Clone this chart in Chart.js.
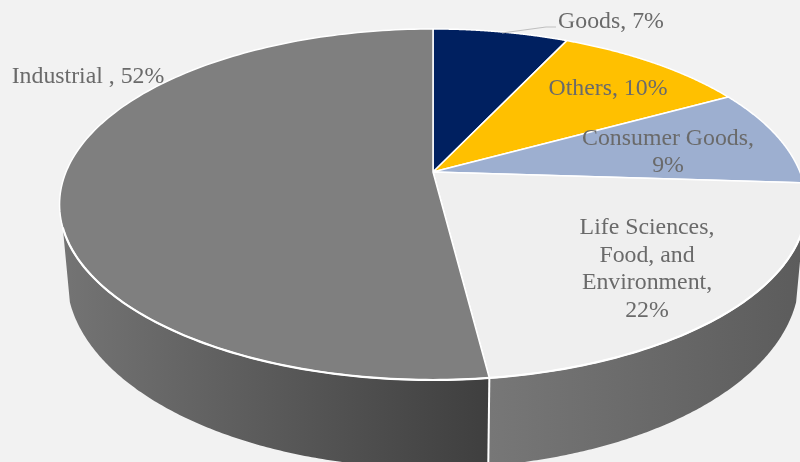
<!DOCTYPE html>
<html>
<head>
<meta charset="utf-8">
<script src="https://cdn.jsdelivr.net/npm/chart.js@4"></script>
<style>
    html, body { margin: 0; padding: 0; background: #f2f2f2; }
    canvas { display: block; }
</style>
</head>
<body>
<canvas id="chartSetores" width="800" height="462"></canvas>
<script>
const categories = ['Goods', 'Others', 'Consumer Goods', 'Life Sciences, Food, and Environment', 'Industrial '];
const values = [7, 10, 9, 22, 52];
const sliceColors = ['#002060', '#ffc000', '#9dafd0', '#efefef', '#7f7f7f'];

// centre of each label block and the width it wraps at
const labelX = [611, 608, 668, 647, 88];
const labelY = [22, 89, 152, 269, 77];
const labelWrap = [200, 200, 180, 145, 200];

// the disc is a circle seen in perspective, k sets how strong it is
const k = 0.185;
const topFace = { x0: 433, y0: 172, a: 367, b: 169.5 };
const lowerFace = { x0: 433, y0: 241.6, a: 360, b: 184.5 };
// angles between which the side wall faces the viewer
const wallFrom = 18 * Math.PI / 180;
const wallTo = 162 * Math.PI / 180;

function project(face, angle) {
    const u = Math.cos(angle);
    const v = Math.sin(angle);
    const w = 1 - k * v;
    return [face.x0 + face.a * u / w, face.y0 + face.b * v / w];
}

function traceRim(ctx, face, start, end) {
    const steps = 160;
    for (let i = 0; i <= steps; i++) {
        const p = project(face, start + (end - start) * i / steps);
        ctx.lineTo(p[0], p[1]);
    }
}

function wrapText(ctx, text, maxWidth) {
    const lines = [];
    let line = '';
    text.split(' ').forEach(word => {
        const next = line ? line + ' ' + word : word;
        if (line && ctx.measureText(next).width > maxWidth) {
            lines.push(line);
            line = word;
        } else {
            line = next;
        }
    });
    lines.push(line);
    return lines;
}

const pie3d = {
    id: 'pie3d',
    // replaces the flat arcs with the tilted disc and its wall
    beforeDatasetDraw(chart, args) {
        const ctx = chart.ctx;
        const arcs = args.meta.data;
        ctx.save();

        // side wall, each slice has its own shading from left to right
        const wallShades = { 3: [[490, '#777777'], [800, '#5c5c5c']], 4: [[62, '#747474'], [487, '#3f3f3f']] };
        arcs.forEach((arc, i) => {
            const start = Math.max(arc.startAngle, wallFrom);
            const end = Math.min(arc.endAngle, wallTo);
            if (end <= start) return;
            const shade = wallShades[i];
            const grad = ctx.createLinearGradient(shade[0][0], 0, shade[1][0], 0);
            grad.addColorStop(0, shade[0][1]);
            grad.addColorStop(1, shade[1][1]);
            ctx.beginPath();
            traceRim(ctx, topFace, start, end);
            traceRim(ctx, lowerFace, end, start);
            ctx.closePath();
            ctx.fillStyle = grad;
            ctx.fill();
        });

        // seam between the two wall pieces
        const seam = arcs[4].startAngle;
        const seamTop = project(topFace, seam);
        const seamBottom = project(lowerFace, seam);
        ctx.strokeStyle = '#ffffff';
        ctx.lineWidth = 2;
        ctx.beginPath();
        ctx.moveTo(seamTop[0], seamTop[1]);
        ctx.lineTo(seamBottom[0], seamBottom[1]);
        ctx.stroke();

        // top of the disc
        arcs.forEach((arc, i) => {
            ctx.beginPath();
            ctx.moveTo(topFace.x0, topFace.y0);
            traceRim(ctx, topFace, arc.startAngle, arc.endAngle);
            ctx.closePath();
            ctx.fillStyle = sliceColors[i];
            ctx.fill();
            ctx.strokeStyle = '#ffffff';
            ctx.lineWidth = 1.5;
            ctx.lineJoin = 'round';
            ctx.stroke();
        });

        // front edge of the disc catches more light
        ctx.strokeStyle = '#ffffff';
        ctx.lineWidth = 2.2;
        ctx.beginPath();
        traceRim(ctx, topFace, wallFrom, wallTo);
        ctx.stroke();

        ctx.restore();
        return false;
    },
    afterDatasetsDraw(chart) {
        const ctx = chart.ctx;
        ctx.save();

        // leader line of the first label
        ctx.strokeStyle = '#bfbfbf';
        ctx.lineWidth = 1.2;
        ctx.beginPath();
        ctx.moveTo(502, 33);
        ctx.lineTo(546, 27);
        ctx.lineTo(556, 27);
        ctx.stroke();

        ctx.font = '23.8px "Liberation Serif"';
        ctx.fillStyle = '#6a6a6a';
        ctx.textAlign = 'center';
        ctx.textBaseline = 'middle';
        categories.forEach((name, i) => {
            const lines = wrapText(ctx, name + ', ' + values[i] + '%', labelWrap[i]);
            const lineHeight = 27.5;
            lines.forEach((line, n) => {
                const y = labelY[i] + (n - (lines.length - 1) / 2) * lineHeight;
                ctx.fillText(line, labelX[i], y);
            });
        });
        ctx.restore();
    }
};

new Chart(document.getElementById('chartSetores'), {
    type: 'pie',
    data: {
        labels: categories,
        datasets: [{
            data: values,
            backgroundColor: sliceColors
        }]
    },
    options: {
        responsive: false,
        animation: false,
        plugins: {
            legend: { display: false },
            tooltip: { enabled: false }
        }
    },
    plugins: [pie3d]
});
</script>
</body>
</html>
